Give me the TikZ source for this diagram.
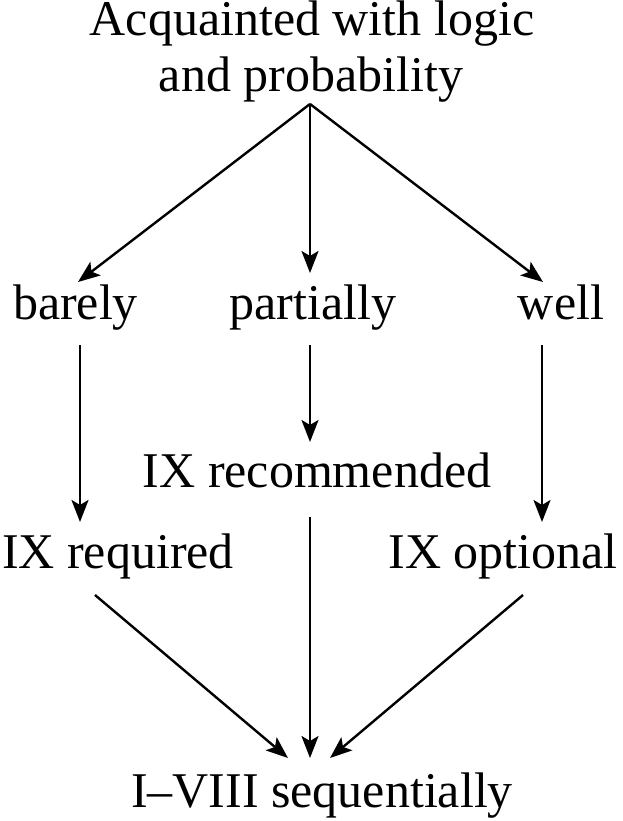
\documentclass[tikz,border=0pt]{standalone}
\usepackage{fontspec}
\setmainfont{Liberation Serif}
\usetikzlibrary{arrows.meta}
\begin{document}
\begin{tikzpicture}[x=1pt,y=-1pt,
  lbl/.style={inner sep=0pt, outer sep=0pt, anchor=base, font=\fontsize{50}{56}\selectfont},
  arr/.style={line width=2.4pt, -{Stealth[length=22pt,width=17pt,inset=5pt]}}]
\useasboundingbox (0,0) rectangle (623,821);
% text nodes
\node[lbl] (top1) at (312,36) {Acquainted with logic};
\node[lbl] (top) at (311,92) {and probability};
\node[lbl] (barely) at (75.5,319) {barely};
\node[lbl] (partially) at (313,319) {partially};
\node[lbl] (well) at (561,319) {well};
\node[lbl] (rec) at (317,487) {IX recommended};
\node[lbl] (req) at (118,568) {IX required};
\node[lbl] (opt) at (503,568) {IX optional};
\node[lbl] (seq) at (322,807) {I–VIII sequentially};
% connector end points
\coordinate (top-out) at (310,104);
\coordinate (barely-in) at (78,282);
\coordinate (partially-in) at (310,273);
\coordinate (well-in) at (543,282);
\coordinate (barely-out) at (80,345);
\coordinate (partially-out) at (310,345);
\coordinate (well-out) at (542,345);
\coordinate (req-in) at (80,522);
\coordinate (rec-in) at (310,442);
\coordinate (opt-in) at (542,522);
\coordinate (req-out) at (95,595);
\coordinate (rec-out) at (310,517);
\coordinate (opt-out) at (523,595);
\coordinate (seq-inl) at (288,758);
\coordinate (seq-inm) at (310,758);
\coordinate (seq-inr) at (330,758);
% connectors
\draw[arr] (top-out) -- (barely-in);
\draw[arr] (top-out) -- (partially-in);
\draw[arr] (top-out) -- (well-in);
\draw[arr] (barely-out) -- (req-in);
\draw[arr] (partially-out) -- (rec-in);
\draw[arr] (well-out) -- (opt-in);
\draw[arr] (req-out) -- (seq-inl);
\draw[arr] (rec-out) -- (seq-inm);
\draw[arr] (opt-out) -- (seq-inr);
\end{tikzpicture}
\end{document}
